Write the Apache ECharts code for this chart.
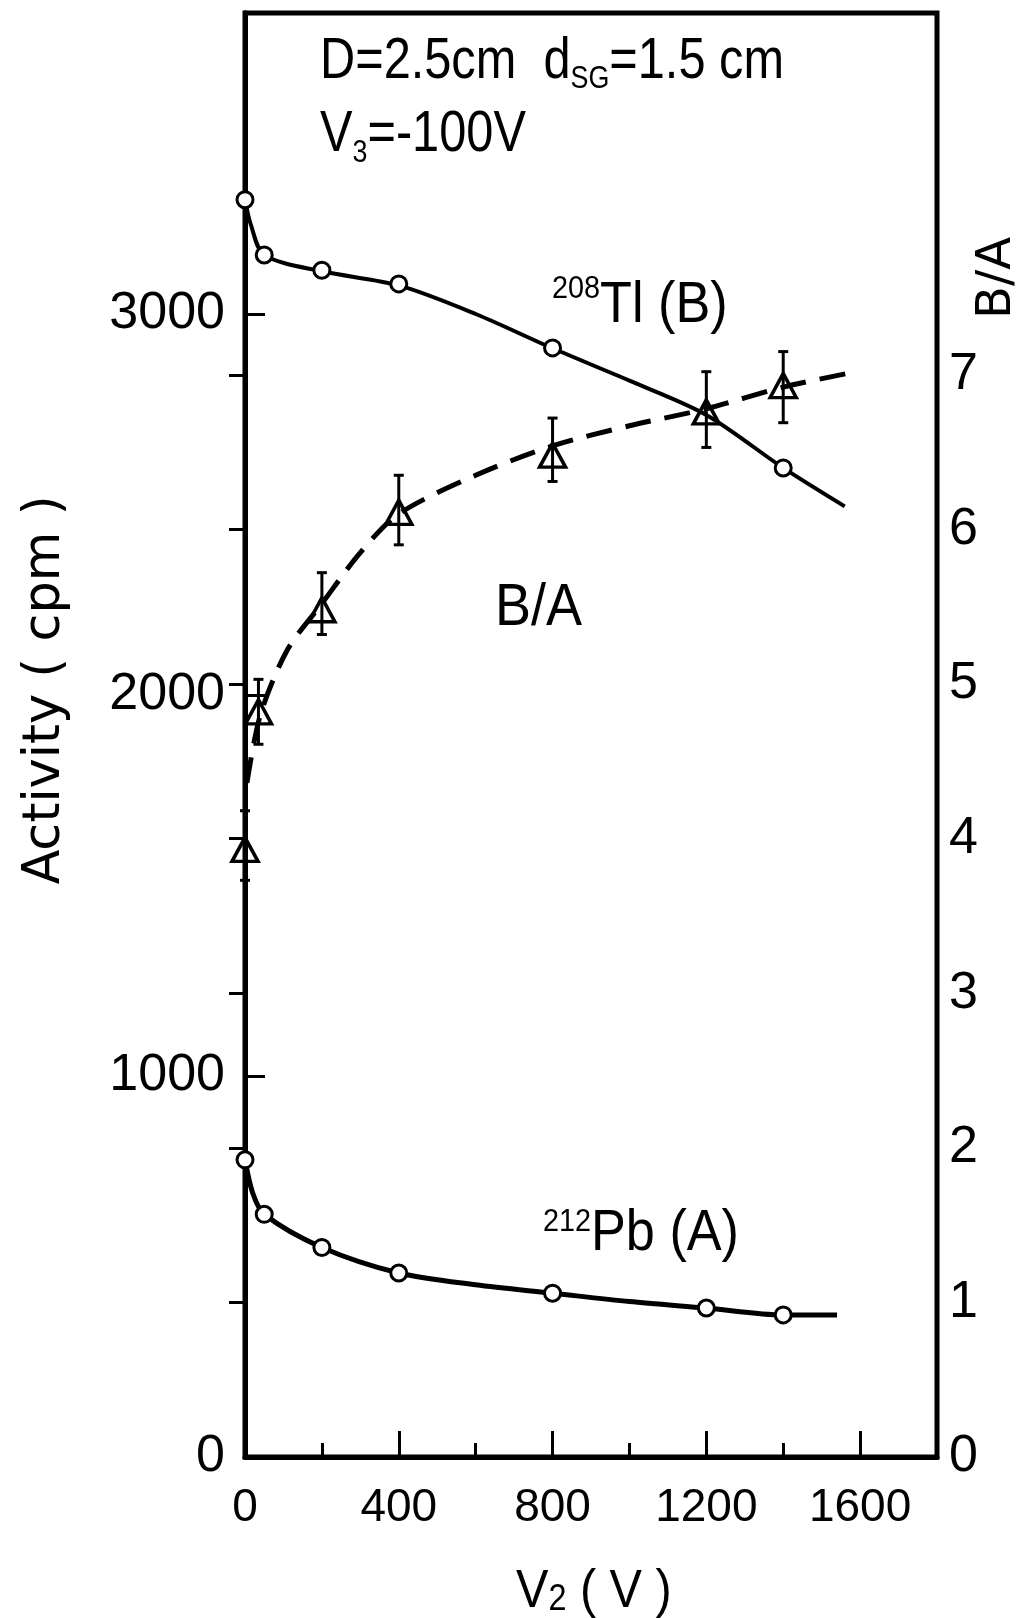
<!DOCTYPE html>
<html>
<head>
<meta charset="utf-8">
<title>Activity vs V2</title>
<script src="https://cdn.jsdelivr.net/npm/echarts@6/dist/echarts.min.js"></script>
<style>
html,body{margin:0;padding:0;background:#fff;}
#chart{width:1019px;height:1618px;}
</style>
</head>
<body>
<div id="chart"></div>
<script>
// 208Tl (B) measured points
var tlV = [0, 50, 200, 400, 800, 1400];
var tlAct = [3300, 3155, 3115, 3079, 2911, 2596];
// 208Tl fitted curve
var tlCurveV = [0, 15, 50, 200, 400, 600, 800, 1000, 1200, 1400, 1560];
var tlCurveAct = [3300, 3235, 3155, 3112, 3075, 3000, 2910, 2825, 2735, 2596, 2495];

// 212Pb (A)
var pbV = [0, 50, 200, 400, 800, 1200, 1400];
var pbAct = [780, 637, 550, 483, 430, 391, 373];
var pbCurveV = [0, 20, 50, 200, 400, 600, 800, 1000, 1200, 1400, 1540];
var pbCurveAct = [780, 693, 637, 550, 483, 452, 430, 408, 391, 373, 373];

// B/A ratio with error bars (right axis)
var baV = [0, 35, 200, 400, 800, 1200, 1400];
var baRatio = [3.93, 4.82, 5.48, 6.11, 6.48, 6.76, 6.93];
var baErrLow = [3.73, 4.61, 5.32, 5.90, 6.31, 6.53, 6.69];
var baErrHigh = [4.18, 5.03, 5.72, 6.35, 6.72, 7.02, 7.15];
var baCurveV = [5, 40, 110, 200, 300, 400, 600, 800, 1000, 1200, 1400, 1590];
var baCurveRatio = [4.36, 4.8, 5.22, 5.52, 5.85, 6.1, 6.35, 6.54, 6.67, 6.78, 6.92, 7.02];

// ticks / labels
var xLabels = [0, 400, 800, 1200, 1600];
var xMajorTicks = [400, 800, 1200, 1600];
var xMinorTicks = [200, 600, 1000, 1400];
var yLeftLabels = [0, 1000, 2000, 3000];
var yLeftTicks = [1000, 2000, 3000];
var yRightLabels = [0, 1, 2, 3, 4, 5, 6, 7];
var yRightTicks = [1, 2, 3, 4, 5, 6, 7];

var NARROW = "'Liberation Sans', Arial, sans-serif";
var SANS = "'DejaVu Sans', sans-serif";

function zip(a, b) {
	var out = [];
	for (var i = 0; i < a.length; i++) out.push([a[i], b[i]]);
	return out;
}
function plain(v) { return String(v); }
var errData = [];
for (var i = 0; i < baV.length; i++) errData.push([baV[i], baErrLow[i], baErrHigh[i]]);

// 一行文字，带上下标，sx 为横向压缩
var mctx = document.createElement('canvas').getContext('2d');
function textRow(x, y, sx, parts) {
	var els = [], cx = x;
	for (var i = 0; i < parts.length; i++) {
		var p = parts[i];
		var font = p.size + 'px ' + (p.family || NARROW);
		mctx.font = font;
		els.push({
			type: 'text', x: cx, y: y + (p.dy || 0), scaleX: sx, z: 100,
			style: { text: p.t, font: font, fill: '#000', align: 'left', verticalAlign: 'middle' }
		});
		cx += mctx.measureText(p.t).width * sx;
	}
	return els;
}

var graphics = [].concat(
	textRow(320, 62, 0.84, [{t: 'D=2.5cm  d', size: 58}, {t: 'SG', size: 32, dy: 17}, {t: '=1.5 cm', size: 58}]),
	textRow(320, 135, 0.84, [{t: 'V', size: 58}, {t: '3', size: 32, dy: 18}, {t: '=-100V', size: 58}]),
	textRow(552, 289, 0.9, [{t: '208', size: 32}, {t: 'Tl (B)', size: 58, dy: 17}]),
	textRow(495, 608, 0.9, [{t: 'B/A', size: 60}]),
	textRow(543, 1222, 0.9, [{t: '212', size: 32}, {t: 'Pb (A)', size: 58, dy: 12}]),
	textRow(516, 1592, 0.9, [{t: 'V', size: 54}, {t: '2', size: 36, dy: 8}, {t: ' ( V )', size: 54}])
);
graphics.push({
	type: 'text', x: 46, y: 690, rotation: Math.PI / 2, z: 100,
	style: { text: 'Activity ( cpm )', font: '51px ' + SANS, fill: '#000', align: 'center', verticalAlign: 'middle' }
});
graphics.push({
	type: 'text', x: 998, y: 278, rotation: Math.PI / 2, z: 100,
	style: { text: 'B/A', font: '48px ' + SANS, fill: '#000', align: 'center', verticalAlign: 'middle' }
});

var myChart = echarts.init(document.getElementById('chart'));
var option = {
	backgroundColor: '#fff',
	animation: false,
	grid: { left: 245, right: 82, top: 13, bottom: 161, show: true, borderColor: '#000', borderWidth: 5 },
	xAxis: [
		{
			type: 'value', min: 0, max: 1800, position: 'bottom',
			axisLine: { show: true, lineStyle: { color: '#000', width: 5 } },
			axisTick: { show: true, inside: true, length: 26, customValues: xMajorTicks, lineStyle: { color: '#000', width: 3 } },
			axisLabel: { customValues: xLabels, formatter: plain, color: '#000', fontSize: 46, fontFamily: NARROW, margin: 28 },
			splitLine: { show: false }
		},
		{
			type: 'value', min: 0, max: 1800, position: 'bottom',
			axisLine: { show: false },
			axisTick: { show: true, inside: true, length: 14, customValues: xMinorTicks, lineStyle: { color: '#000', width: 3 } },
			axisLabel: { show: false },
			splitLine: { show: false }
		}
	],
	yAxis: [
		{
			type: 'value', min: 0, max: 3790, position: 'left',
			axisLine: { show: true, lineStyle: { color: '#000', width: 5 } },
			axisTick: { show: true, inside: true, length: 20, customValues: yLeftTicks, lineStyle: { color: '#000', width: 3 } },
			axisLabel: { customValues: yLeftLabels, formatter: plain, color: '#000', fontSize: 52, fontFamily: NARROW, margin: 20 },
			splitLine: { show: false }
		},
		{
			type: 'value', min: 0, max: 9.34, position: 'right',
			axisLine: { show: true, lineStyle: { color: '#000', width: 5 } },
			axisTick: { show: true, inside: true, length: 16, customValues: yRightTicks, lineStyle: { color: '#000', width: 3 } },
			axisLabel: { customValues: yRightLabels, formatter: plain, color: '#000', fontSize: 52, fontFamily: NARROW, margin: 12 },
			splitLine: { show: false }
		}
	],
	series: [
		{
			name: 'Tl curve', type: 'line', smooth: 0.3, showSymbol: false,
			lineStyle: { color: '#000', width: 4 },
			data: zip(tlCurveV, tlCurveAct)
		},
		{
			name: '208Tl(B)', type: 'scatter', symbol: 'circle', symbolSize: 16, z: 5,
			itemStyle: { color: '#fff', borderColor: '#000', borderWidth: 3, opacity: 1 },
			data: zip(tlV, tlAct)
		},
		{
			name: 'Pb curve', type: 'line', smooth: 0.3, showSymbol: false,
			lineStyle: { color: '#000', width: 5 },
			data: zip(pbCurveV, pbCurveAct)
		},
		{
			name: '212Pb(A)', type: 'scatter', symbol: 'circle', symbolSize: 16, z: 5,
			itemStyle: { color: '#fff', borderColor: '#000', borderWidth: 3, opacity: 1 },
			data: zip(pbV, pbAct)
		},
		{
			name: 'B/A curve', type: 'line', yAxisIndex: 1, smooth: 0.3, showSymbol: false,
			lineStyle: { color: '#000', width: 5, type: [26, 14] },
			data: zip(baCurveV, baCurveRatio)
		},
		{
			name: 'B/A err', type: 'custom', yAxisIndex: 1, z: 4,
			encode: { x: 0, y: [1, 2] },
			renderItem: function (params, api) {
				var top = api.coord([api.value(0), api.value(2)]);
				var bot = api.coord([api.value(0), api.value(1)]);
				var c = 5, st = { stroke: '#000', lineWidth: 3 };
				return {
					type: 'group',
					children: [
						{ type: 'line', shape: { x1: top[0], y1: top[1], x2: bot[0], y2: bot[1] }, style: st },
						{ type: 'line', shape: { x1: top[0] - c, y1: top[1], x2: top[0] + c, y2: top[1] }, style: st },
						{ type: 'line', shape: { x1: bot[0] - c, y1: bot[1], x2: bot[0] + c, y2: bot[1] }, style: st }
					]
				};
			},
			data: errData
		},
		{
			name: 'B/A', type: 'scatter', yAxisIndex: 1, symbol: 'triangle', symbolSize: [26, 24], z: 6,
			itemStyle: { color: 'rgba(255,255,255,0)', borderColor: '#000', borderWidth: 3.5, opacity: 1 },
			data: zip(baV, baRatio)
		}
	],
	graphic: graphics
};
myChart.setOption(option);
</script>
</body>
</html>
